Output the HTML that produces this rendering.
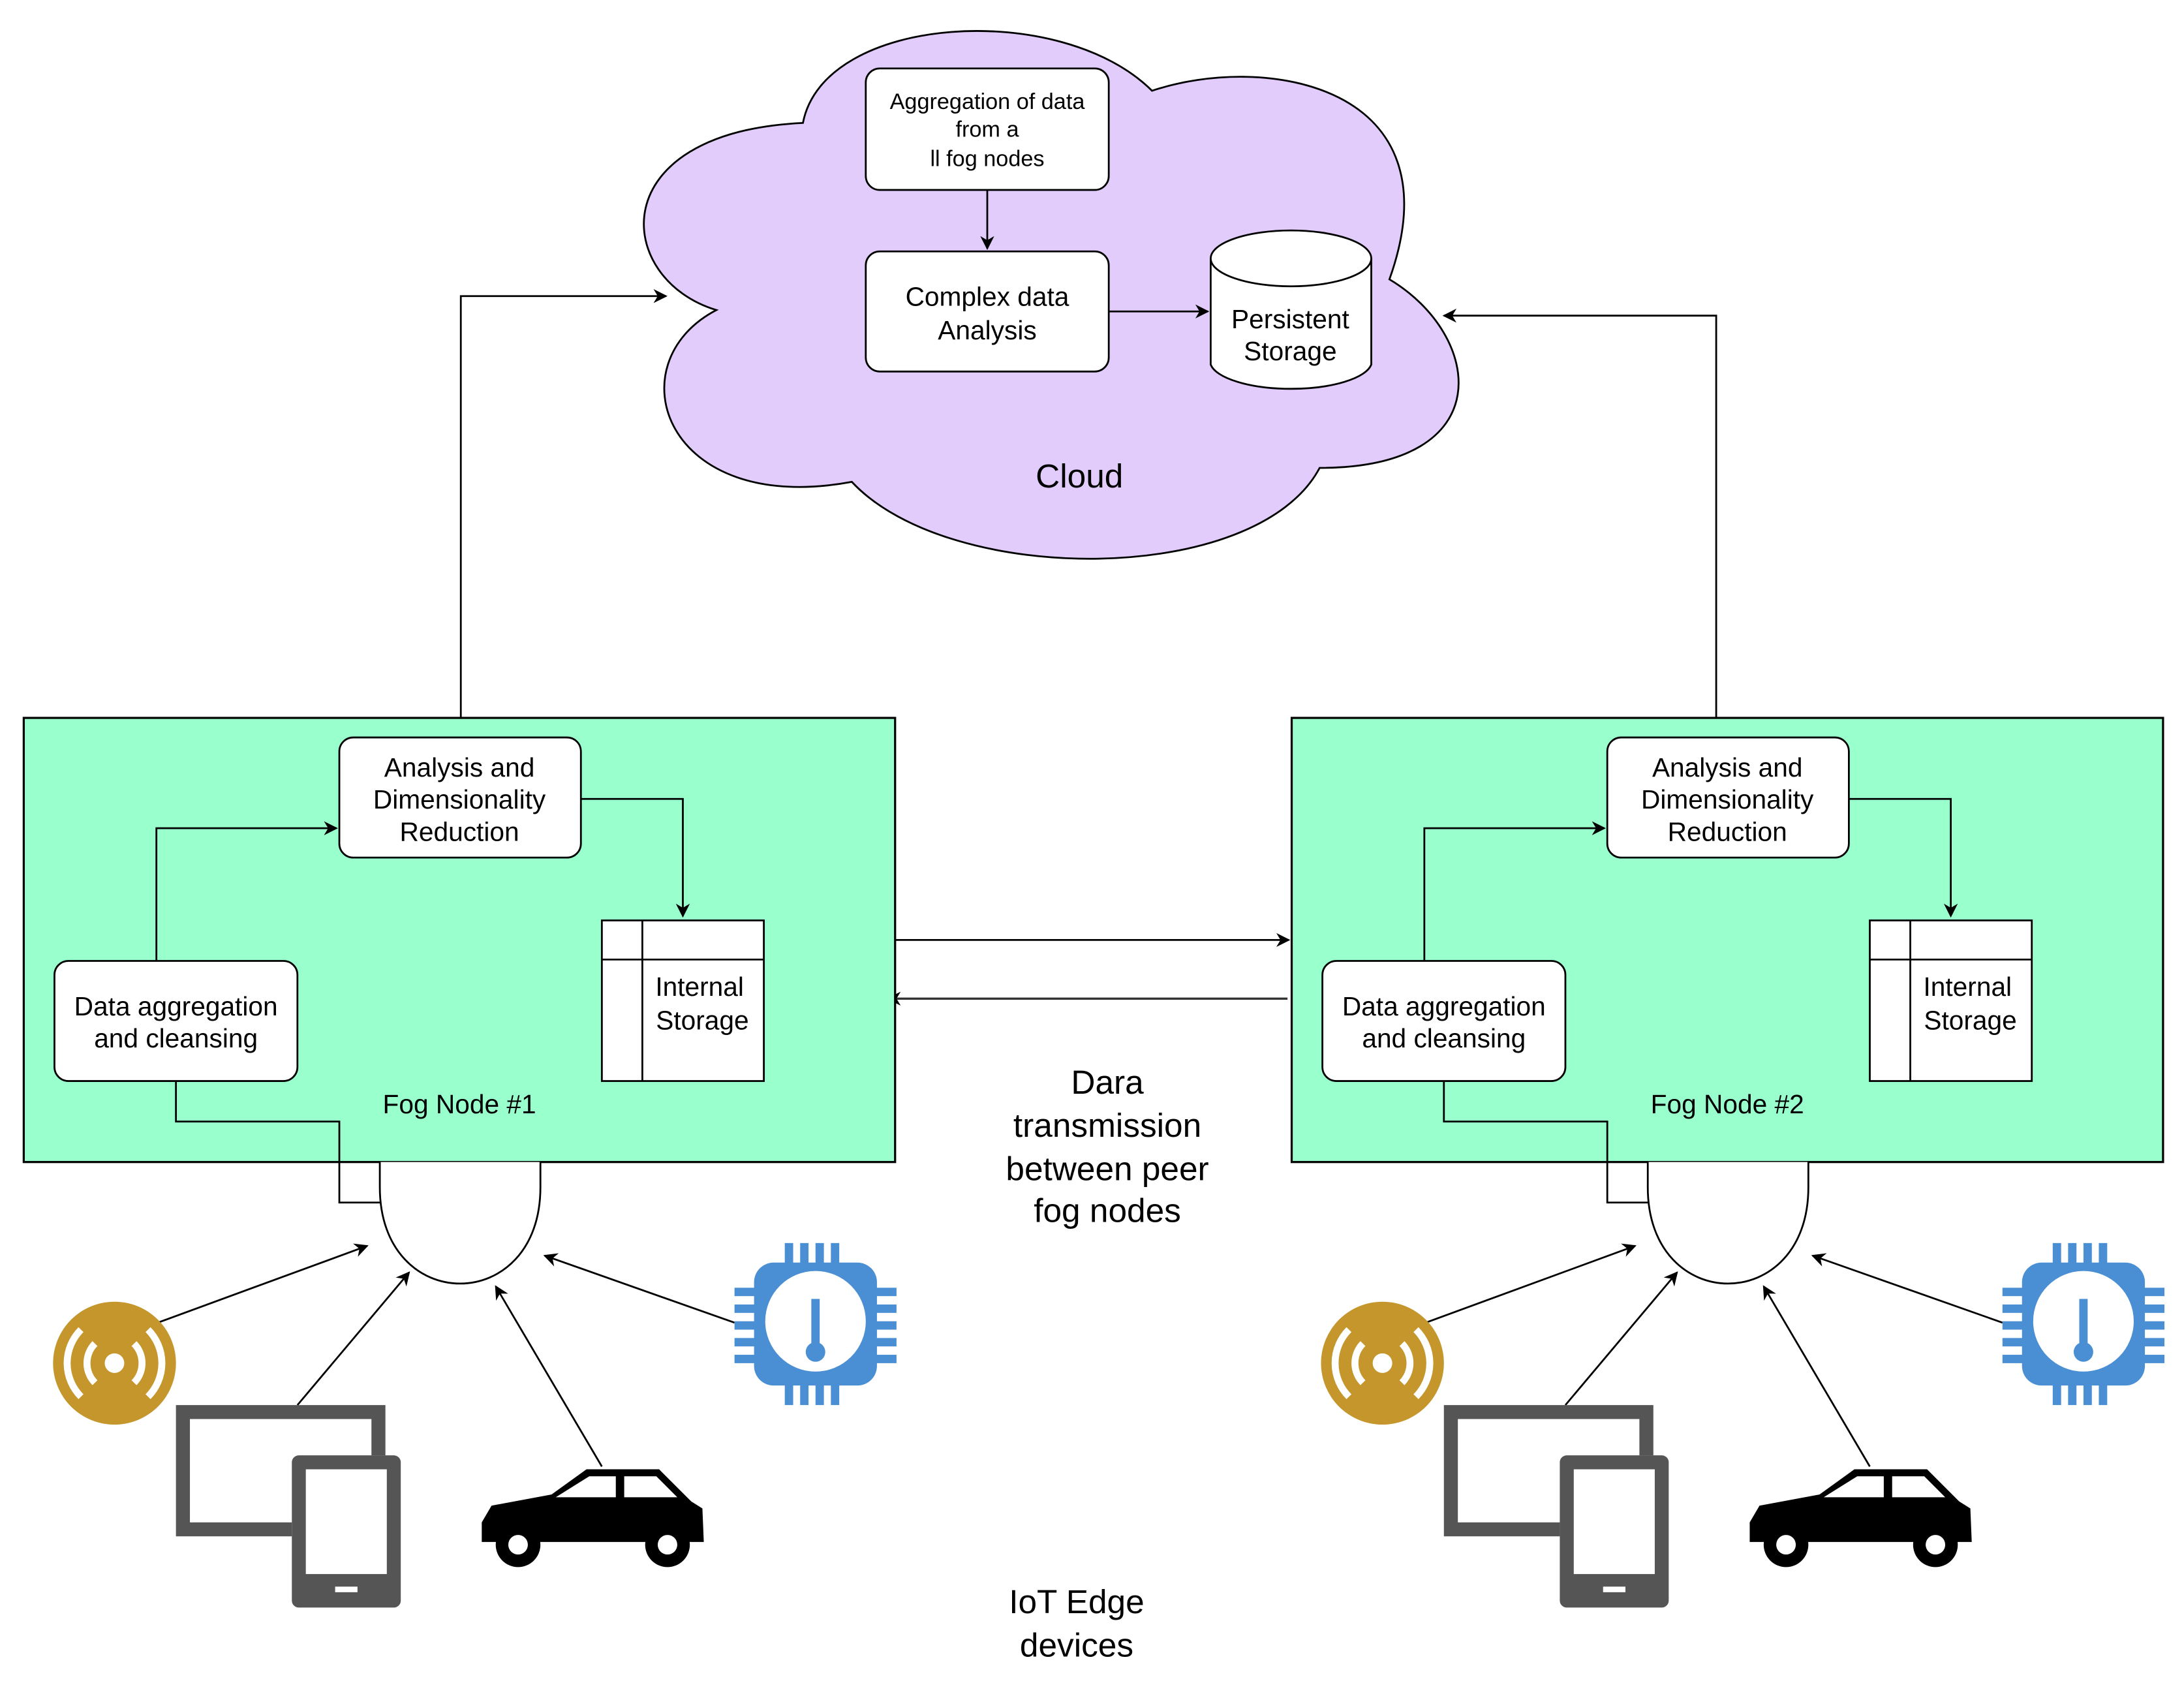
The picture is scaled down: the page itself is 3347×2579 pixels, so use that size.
<!DOCTYPE html>
<html><head><meta charset="utf-8"><style>
html,body{margin:0;padding:0;background:#fff}
svg{display:block}
text{font-family:"Liberation Sans",sans-serif;fill:#000;text-anchor:middle}
</style></head><body>
<svg width="3347" height="2579" viewBox="0 0 1564 1205" preserveAspectRatio="none" xmlns="http://www.w3.org/2000/svg">
<defs>
<marker id="a" markerWidth="10" markerHeight="10" refX="9" refY="5" orient="auto" markerUnits="userSpaceOnUse"><path d="M0,0 L10,5 L0,10 L3,5 Z" fill="#000"/></marker>
</defs>
<!-- cloud -->
<path d="M513,222 C440,200 430,95 575,88 C590,10 760,0 825,65 C905,38 1045,60 995,200 C1062,240 1075,335 945,335 C900,420 680,420 610,345 C475,370 440,260 513,222 Z" fill="#e1ccfb" stroke="#000" stroke-width="1.3"/>
<rect x="620" y="49" width="174" height="87" rx="10" fill="#fff" stroke="#000" stroke-width="1.3"/>
<text x="707" y="78" font-size="16">Aggregation of data</text>
<text x="707" y="98" font-size="16">from a</text>
<text x="707" y="119" font-size="16">ll fog nodes</text>
<line x1="707" y1="136" x2="707" y2="178" stroke="#000" stroke-width="1.3" marker-end="url(#a)"/>
<rect x="620" y="180" width="174" height="86" rx="10" fill="#fff" stroke="#000" stroke-width="1.3"/>
<text x="707" y="219" font-size="19">Complex data</text>
<text x="707" y="243" font-size="19">Analysis</text>
<line x1="794" y1="223" x2="865" y2="223" stroke="#000" stroke-width="1.3" marker-end="url(#a)"/>
<path d="M867,185 L867,261 A58,20 0 0 0 982,261 L982,185" fill="#fff" stroke="#000" stroke-width="1.3"/>
<ellipse cx="924.5" cy="185" rx="57.5" ry="20" fill="#fff" stroke="#000" stroke-width="1.3"/>
<text x="924" y="235" font-size="19">Persistent</text>
<text x="924" y="258" font-size="19">Storage</text>
<text x="773" y="349" font-size="24">Cloud</text>
<!-- up connectors -->
<polyline points="330,528 330,212 477,212" fill="none" stroke="#000" stroke-width="1.3" marker-end="url(#a)"/>
<polyline points="1229,528 1229,226 1034,226" fill="none" stroke="#000" stroke-width="1.3" marker-end="url(#a)"/>
<!-- middle arrows -->
<line x1="641" y1="673" x2="923" y2="673" stroke="#000" stroke-width="1.3" marker-end="url(#a)"/>
<line x1="922" y1="715" x2="636" y2="715" stroke="#333" stroke-width="1.6" marker-end="url(#a)"/>
<text x="793" y="783" font-size="24">Dara</text>
<text x="793" y="814" font-size="24">transmission</text>
<text x="793" y="845" font-size="24">between peer</text>
<text x="793" y="875" font-size="24">fog nodes</text>
<text x="771" y="1155" font-size="24">IoT Edge</text>
<text x="771" y="1186" font-size="24">devices</text>

<g id="n1">
<rect x="17" y="514" width="624" height="318" fill="#99ffcc" stroke="#000" stroke-width="1.5"/>
<rect x="243" y="528" width="173" height="86" rx="10" fill="#fff" stroke="#000" stroke-width="1.3"/>
<text x="329" y="556" font-size="19">Analysis and</text>
<text x="329" y="579" font-size="19">Dimensionality</text>
<text x="329" y="602" font-size="19">Reduction</text>
<polyline points="416,572 489,572 489,656" fill="none" stroke="#000" stroke-width="1.3" marker-end="url(#a)"/>
<rect x="431" y="659" width="116" height="115" fill="#fff" stroke="#000" stroke-width="1.3"/>
<line x1="460" y1="659" x2="460" y2="774" stroke="#000" stroke-width="1.3"/>
<line x1="431" y1="687" x2="547" y2="687" stroke="#000" stroke-width="1.3"/>
<text x="501" y="713" font-size="19">Internal</text>
<text x="503" y="737" font-size="19">Storage</text>
<rect x="39" y="688" width="174" height="86" rx="10" fill="#fff" stroke="#000" stroke-width="1.3"/>
<text x="126" y="727" font-size="19">Data aggregation</text>
<text x="126" y="750" font-size="19">and cleansing</text>
<polyline points="112,688 112,593 241,593" fill="none" stroke="#000" stroke-width="1.3" marker-end="url(#a)"/>
<polyline points="126,774 126,803 243,803 243,861 272,861" fill="none" stroke="#000" stroke-width="1.3"/>
<text x="329" y="797" font-size="19">Fog Node #1</text>
<path d="M272,832 L272,850 C272,942 387,942 387,850 L387,832" fill="#fff" stroke="#000" stroke-width="1.3"/>
<line x1="113" y1="947" x2="263" y2="892" stroke="#000" stroke-width="1.3" marker-end="url(#a)"/>
<line x1="213" y1="1006" x2="293" y2="911" stroke="#000" stroke-width="1.3" marker-end="url(#a)"/>
<line x1="431" y1="1050" x2="355" y2="921" stroke="#000" stroke-width="1.3" marker-end="url(#a)"/>
<line x1="526" y1="947" x2="390" y2="899" stroke="#000" stroke-width="1.3" marker-end="url(#a)"/>
<!-- radio icon -->
<circle cx="82" cy="976" r="44" fill="#c4962c"/>
<circle cx="82" cy="976" r="7" fill="#fff"/>
<path d="M68,962 A20,20 0 0 0 68,990 M96,962 A20,20 0 0 1 96,990 M58,952 A34,34 0 0 0 58,1000 M106,952 A34,34 0 0 1 106,1000" fill="none" stroke="#fff" stroke-width="5"/>
<!-- monitor/tablet -->
<path d="M126,1006 H276 V1042 H266 V1016 H136 V1090 H209 V1100 H126 Z" fill="#555"/>
<rect x="209" y="1042" width="78" height="109" rx="5" fill="#555"/>
<rect x="219" y="1052" width="58" height="75" fill="#fff"/>
<rect x="240" y="1136" width="16" height="4" fill="#fff"/>
<!-- car -->
<path d="M345,1090 L352,1078 L395,1070 L420,1052 L472,1052 L495,1075 L503,1080 L504,1104 L345,1104 Z" fill="#000"/>
<path d="M398,1072 L422,1057 L441,1057 L441,1072 Z M447,1057 L470,1057 L485,1072 L447,1072 Z" fill="#fff"/>
<circle cx="371" cy="1106" r="16" fill="#000"/><circle cx="371" cy="1106" r="7" fill="#fff"/>
<circle cx="478" cy="1106" r="16" fill="#000"/><circle cx="478" cy="1106" r="7" fill="#fff"/>
<!-- chip -->
<g fill="#4a8fd4">
<rect x="540" y="904" width="88" height="88" rx="14"/>
<rect x="562" y="890" width="6" height="116"/><rect x="573" y="890" width="6" height="116"/><rect x="584" y="890" width="6" height="116"/><rect x="595" y="890" width="6" height="116"/>
<rect x="526" y="922" width="116" height="6"/><rect x="526" y="934" width="116" height="6"/><rect x="526" y="946" width="116" height="6"/><rect x="526" y="958" width="116" height="6"/><rect x="526" y="970" width="116" height="6"/>
</g>
<circle cx="584" cy="946" r="36" fill="#fff"/>
<rect x="581" y="930" width="6" height="36" fill="#4a8fd4"/>
<circle cx="584" cy="968" r="7" fill="#4a8fd4"/>
</g>
<g transform="translate(908,0)">
<rect x="17" y="514" width="624" height="318" fill="#99ffcc" stroke="#000" stroke-width="1.5"/>
<rect x="243" y="528" width="173" height="86" rx="10" fill="#fff" stroke="#000" stroke-width="1.3"/>
<text x="329" y="556" font-size="19">Analysis and</text>
<text x="329" y="579" font-size="19">Dimensionality</text>
<text x="329" y="602" font-size="19">Reduction</text>
<polyline points="416,572 489,572 489,656" fill="none" stroke="#000" stroke-width="1.3" marker-end="url(#a)"/>
<rect x="431" y="659" width="116" height="115" fill="#fff" stroke="#000" stroke-width="1.3"/>
<line x1="460" y1="659" x2="460" y2="774" stroke="#000" stroke-width="1.3"/>
<line x1="431" y1="687" x2="547" y2="687" stroke="#000" stroke-width="1.3"/>
<text x="501" y="713" font-size="19">Internal</text>
<text x="503" y="737" font-size="19">Storage</text>
<rect x="39" y="688" width="174" height="86" rx="10" fill="#fff" stroke="#000" stroke-width="1.3"/>
<text x="126" y="727" font-size="19">Data aggregation</text>
<text x="126" y="750" font-size="19">and cleansing</text>
<polyline points="112,688 112,593 241,593" fill="none" stroke="#000" stroke-width="1.3" marker-end="url(#a)"/>
<polyline points="126,774 126,803 243,803 243,861 272,861" fill="none" stroke="#000" stroke-width="1.3"/>
<text x="329" y="797" font-size="19">Fog Node #2</text>
<path d="M272,832 L272,850 C272,942 387,942 387,850 L387,832" fill="#fff" stroke="#000" stroke-width="1.3"/>
<line x1="113" y1="947" x2="263" y2="892" stroke="#000" stroke-width="1.3" marker-end="url(#a)"/>
<line x1="213" y1="1006" x2="293" y2="911" stroke="#000" stroke-width="1.3" marker-end="url(#a)"/>
<line x1="431" y1="1050" x2="355" y2="921" stroke="#000" stroke-width="1.3" marker-end="url(#a)"/>
<line x1="526" y1="947" x2="390" y2="899" stroke="#000" stroke-width="1.3" marker-end="url(#a)"/>
<circle cx="82" cy="976" r="44" fill="#c4962c"/>
<circle cx="82" cy="976" r="7" fill="#fff"/>
<path d="M68,962 A20,20 0 0 0 68,990 M96,962 A20,20 0 0 1 96,990 M58,952 A34,34 0 0 0 58,1000 M106,952 A34,34 0 0 1 106,1000" fill="none" stroke="#fff" stroke-width="5"/>
<path d="M126,1006 H276 V1042 H266 V1016 H136 V1090 H209 V1100 H126 Z" fill="#555"/>
<rect x="209" y="1042" width="78" height="109" rx="5" fill="#555"/>
<rect x="219" y="1052" width="58" height="75" fill="#fff"/>
<rect x="240" y="1136" width="16" height="4" fill="#fff"/>
<path d="M345,1090 L352,1078 L395,1070 L420,1052 L472,1052 L495,1075 L503,1080 L504,1104 L345,1104 Z" fill="#000"/>
<path d="M398,1072 L422,1057 L441,1057 L441,1072 Z M447,1057 L470,1057 L485,1072 L447,1072 Z" fill="#fff"/>
<circle cx="371" cy="1106" r="16" fill="#000"/><circle cx="371" cy="1106" r="7" fill="#fff"/>
<circle cx="478" cy="1106" r="16" fill="#000"/><circle cx="478" cy="1106" r="7" fill="#fff"/>
<g fill="#4a8fd4">
<rect x="540" y="904" width="88" height="88" rx="14"/>
<rect x="562" y="890" width="6" height="116"/><rect x="573" y="890" width="6" height="116"/><rect x="584" y="890" width="6" height="116"/><rect x="595" y="890" width="6" height="116"/>
<rect x="526" y="922" width="116" height="6"/><rect x="526" y="934" width="116" height="6"/><rect x="526" y="946" width="116" height="6"/><rect x="526" y="958" width="116" height="6"/><rect x="526" y="970" width="116" height="6"/>
</g>
<circle cx="584" cy="946" r="36" fill="#fff"/>
<rect x="581" y="930" width="6" height="36" fill="#4a8fd4"/>
<circle cx="584" cy="968" r="7" fill="#4a8fd4"/>
</g>
</svg>
</body></html>
